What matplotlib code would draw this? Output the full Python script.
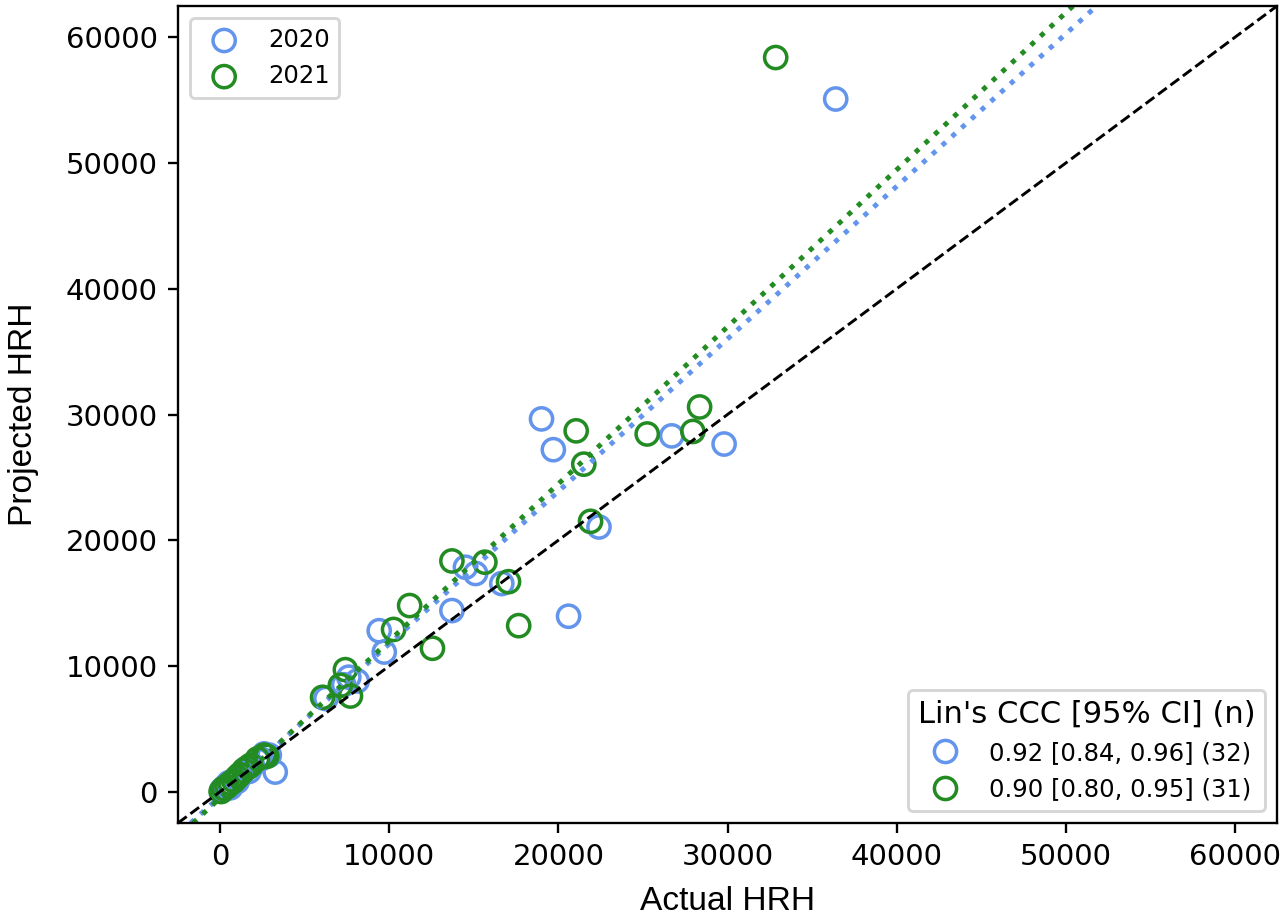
import numpy as np
import matplotlib; matplotlib.use("Agg")
import matplotlib.pyplot as plt
from matplotlib.lines import Line2D

# actual vs projected HRH
act_2020 = [36400, 19000, 19700, 26700, 29800, 22400, 20600, 13700, 14500, 15100,
            16650, 9400, 9700, 7600, 8100, 6250, 3250, 2900, 2400, 7300,
            100, 300, 500, 800, 1200, 1500, 1900, 2200, 600, 1000, 1700, 2600]
proj_2020 = [55100, 29650, 27200, 28300, 27650, 21050, 13950, 14400, 17850, 17350,
             16550, 12800, 11100, 9100, 8800, 7400, 1550, 2900, 2600, 8500,
             150, 400, 700, 900, 1300, 1800, 2100, 2500, 300, 800, 1600, 3000]
act_2021 = [32850, 21050, 21500, 25250, 27950, 28350, 21900, 17650, 13700, 15650,
            17050, 11200, 12550, 10250, 7400, 7100, 7700, 6050,
            2600, 2200, 1800, 1400, 1000, 600, 200, 50, 1600, 1150, 800, 400, 2750]
proj_2021 = [58400, 28700, 26050, 28450, 28650, 30600, 21500, 13200, 18350, 18250,
             16700, 14800, 11400, 12900, 9700, 8450, 7600, 7500,
             2900, 2600, 2100, 1700, 1150, 650, 250, 0, 1900, 1350, 850, 400, 2800]

# regression lines (slope, intercept)
fit_2020 = (1.213, -375)
fit_2021 = (1.249, -494)

ccc_labels = ["0.92 [0.84, 0.96] (32)", "0.90 [0.80, 0.95] (31)"]
years = ["2020", "2021"]
cols = ["cornflowerblue", "forestgreen"]
lims = (-2500, 62500)

fig = plt.figure(figsize=(1287/210, 919/210), dpi=210)
ax = fig.add_axes([178/1287, 1-823/919, (1277-178)/1287, (823-6)/919])

for x, y, c, lab in zip([act_2020, act_2021], [proj_2020, proj_2021], cols, years):
    ax.scatter(x, y, s=58, facecolors="none", edgecolors=c, linewidths=1.2, label=lab)
for (m, b), c in zip([fit_2020, fit_2021], cols):
    ax.axline((0, b), slope=m, color=c, ls=":", lw=1.7)
ax.axline((0, 0), (1, 1), color="k", ls="--", lw=1.0)

ax.set_xlim(lims); ax.set_ylim(lims)
ax.set_xticks(np.arange(0, 60001, 10000)); ax.set_yticks(np.arange(0, 60001, 10000))
ax.set_xlabel("Actual HRH", family="Liberation Sans", fontsize=11.5, labelpad=5)
ax.set_ylabel("Projected HRH", family="Liberation Sans", fontsize=11.5, labelpad=9)

leg1 = ax.legend(loc="upper left", fontsize="small")
ax.add_artist(leg1)
proxies = [Line2D([], [], ls="none", marker="o", mfc="none", mec=c, ms=7.6, mew=1.2) for c in cols]
ax.legend(proxies, ccc_labels, loc="lower right", fontsize="small",
          title="Lin's CCC [95% CI] (n)", title_fontsize=10.5)

fig.savefig("out.png", dpi=210)
